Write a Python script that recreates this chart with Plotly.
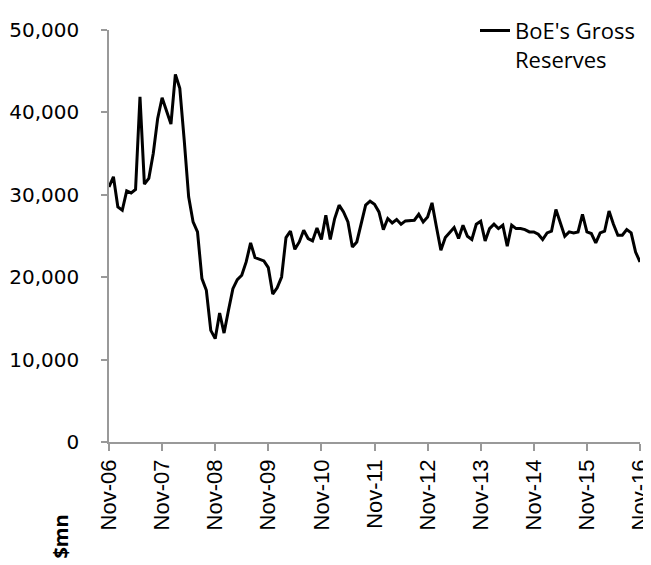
import plotly.graph_objects as go

# Monthly BoE gross reserves ($mn), Nov-06 .. Nov-16
months = list(range(121))
reserves = [
    30960, 32180, 28530, 28130, 30480, 30230, 30640, 41900, 31290, 31980,
    35020, 39270, 41780, 40280, 38580, 44620, 42920, 36630, 29750, 26710,
    25490, 19830, 18410, 13550, 12540, 15650, 13220, 15980, 18610, 19710,
    20230, 21850, 24160, 22380, 22140, 21970, 21170, 17950, 18710, 20020,
    24810, 25580, 23390, 24280, 25700, 24690, 24400, 25980, 24570, 27520,
    24570, 27120, 28740, 27920, 26710, 23670, 24280, 26510, 28740, 29220,
    28860, 27920, 25780, 27120, 26590, 27000, 26430, 26830, 26830, 26910,
    27640, 26710, 27320, 29020, 26100, 23270, 24810, 25400, 26030, 24690,
    26310, 24970, 24570, 26430, 26790, 24400, 25900, 26430, 25900, 26310,
    23750, 26310, 25900, 25900, 25780, 25500, 25500, 25210, 24570, 25380,
    25580, 28210, 26710, 24970, 25500, 25380, 25500, 27640, 25500, 25300,
    24160, 25380, 25580, 28040, 26430, 25090, 25090, 25780, 25380, 23060,
    21850,
]
tick_positions = [0, 12, 24, 36, 48, 60, 72, 84, 96, 108, 120]
tick_labels = ["Nov-06", "Nov-07", "Nov-08", "Nov-09", "Nov-10", "Nov-11",
               "Nov-12", "Nov-13", "Nov-14", "Nov-15", "Nov-16"]
y_ticks = [0, 10000, 20000, 30000, 40000, 50000]
y_labels = ["0", "10,000", "20,000", "30,000", "40,000", "50,000"]

fig = go.Figure()
fig.add_trace(go.Scatter(
    x=months, y=reserves, mode="lines",
    name="BoE's Gross<br>Reserves",
    line=dict(color="black", width=3),
))

fig.update_layout(
    width=651, height=565,
    margin=dict(l=101, r=19, t=22, b=131, autoexpand=False),
    plot_bgcolor="white", paper_bgcolor="white",
    showlegend=True,
    legend=dict(
        x=1.0, xanchor="right", y=1.049, yanchor="top",
        font=dict(family="Open Sans", size=22, color="black"),
        valign="top", bgcolor="rgba(0,0,0,0)",
        itemwidth=30,
    ),
    xaxis=dict(
        range=[0, 120], automargin=False,
        tickvals=tick_positions, ticktext=tick_labels,
        tickangle=-90,
        tickfont=dict(family="Liberation Sans", size=22, color="black"),
        showgrid=False, zeroline=False,
        showline=True, linecolor="#999999", linewidth=1.5,
        ticks="outside", ticklen=7, tickcolor="#999999", tickwidth=1.5,
    ),
    yaxis=dict(
        range=[0, 50000], automargin=False,
        tickvals=y_ticks, ticktext=y_labels,
        tickfont=dict(family="DejaVu Sans", size=20, color="black"),
        showgrid=False, zeroline=False,
        showline=True, linecolor="#999999", linewidth=1.5,
        ticks="outside", ticklen=6, tickcolor="#999999", tickwidth=1.5,
        ticklabelstandoff=18,
    ),
    annotations=[dict(
        text="<b>$mn</b>", xref="paper", yref="paper",
        x=-0.0904, y=-0.2296, xanchor="center", yanchor="middle",
        textangle=-90, showarrow=False,
        font=dict(family="Open Sans", size=20, color="black"),
    )],
)

fig.write_html("out.html")
